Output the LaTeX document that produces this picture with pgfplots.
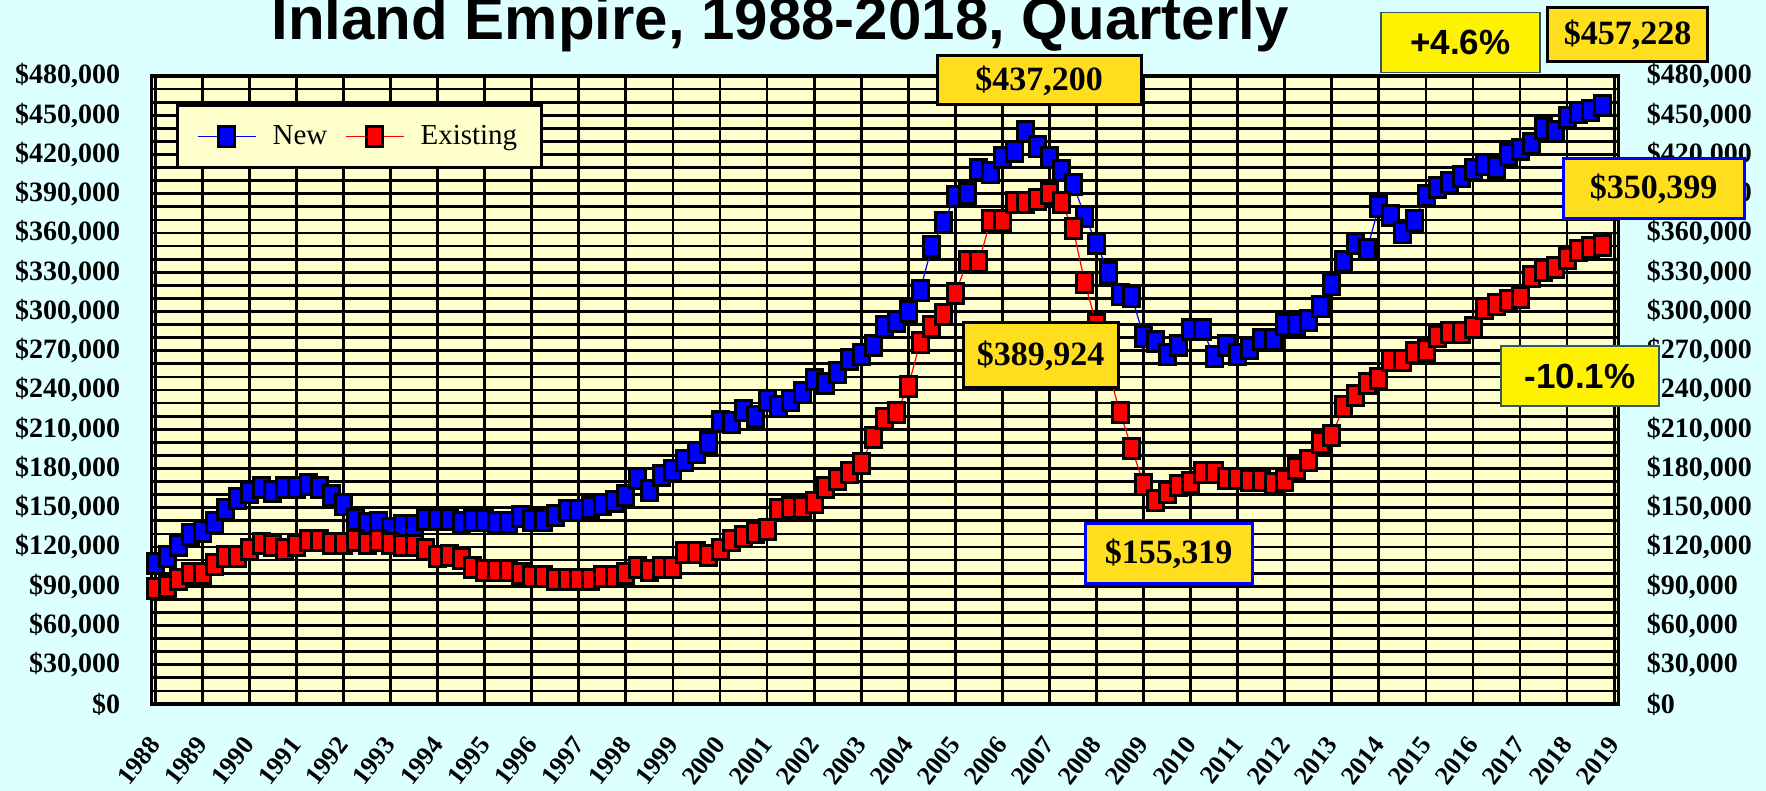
\documentclass[border=0pt]{standalone}
\usepackage{pgfplots}
\pgfplotsset{compat=1.18}
\usepackage{pgfplotstable}
\usepackage{fontspec}
\setmainfont{Liberation Serif}
\newfontfamily\sansfont{Liberation Sans}

\definecolor{bgcyan}{RGB}{220,255,255}
\definecolor{plotyellow}{RGB}{255,255,204}
\definecolor{boxgold}{RGB}{255,222,30}
\definecolor{pctborder}{RGB}{50,90,100}

\pgfplotstableread{
t new existing
1988.00 107500 88000
1988.25 112600 90000
1988.50 120800 95300
1988.75 129200 99900
1989.00 131700 99900
1989.25 139100 106500
1989.50 148300 113100
1989.75 157200 113100
1990.00 162000 118200
1990.25 165600 122300
1990.50 162300 120800
1990.75 165600 118200
1991.00 165600 120800
1991.25 167900 124800
1991.50 165600 124800
1991.75 159500 122300
1992.00 152400 122300
1992.25 140900 124800
1992.50 137600 122300
1992.75 138600 124800
1993.00 134000 122300
1993.25 136600 120800
1993.50 136100 120800
1993.75 141200 118200
1994.00 141200 113100
1994.25 141000 113400
1994.50 138600 111100
1994.75 140600 104400
1995.00 140600 102400
1995.25 138600 102400
1995.50 138600 102400
1995.75 143200 99900
1996.00 140600 97800
1996.25 140600 97800
1996.50 143700 95300
1996.75 147800 95300
1997.00 147800 95300
1997.25 150300 95300
1997.50 152100 97800
1997.75 154400 97800
1998.00 159000 99900
1998.25 172500 104400
1998.50 163100 102400
1998.75 174300 104400
1999.00 178800 104400
1999.25 186000 115700
1999.50 192600 115700
1999.75 199700 113600
2000.00 215800 118200
2000.25 215300 125300
2000.50 224600 127800
2000.75 220000 130900
2001.00 231800 133400
2001.25 227700 148700
2001.50 232300 150200
2001.75 237900 150200
2002.00 248100 153800
2002.25 245000 165500
2002.50 253200 171600
2002.75 263400 176700
2003.00 267400 183900
2003.25 274300 203700
2003.50 288800 218300
2003.75 292200 222600
2004.00 299800 243000
2004.25 315900 276100
2004.50 349500 288800
2004.75 368300 297500
2005.00 388200 313800
2005.25 390200 338000
2005.50 408600 338000
2005.75 406100 369900
2006.00 417800 369900
2006.25 422100 383100
2006.50 437200 383100
2006.75 426400 385700
2007.00 417800 389924
2007.25 408100 383100
2007.50 397400 363500
2007.75 372900 322000
2008.00 352000 290000
2008.25 329600 255000
2008.50 312800 222600
2008.75 311300 195300
2009.00 280700 168100
2009.25 276900 155319
2009.50 267400 161400
2009.75 274300 167300
2010.00 286300 169100
2010.25 286300 176700
2010.50 265400 176700
2010.75 274300 172400
2011.00 267400 172400
2011.25 271800 170600
2011.50 278700 170600
2011.75 278700 168600
2012.00 290400 170600
2012.25 290400 180000
2012.50 293400 186400
2012.75 304100 199700
2013.00 320600 205000
2013.25 338000 227700
2013.50 351600 235900
2013.75 347500 245000
2014.00 380600 249100
2014.25 373000 262900
2014.50 360700 262900
2014.75 369900 268500
2015.00 389000 270000
2015.25 394900 281200
2015.50 398400 283800
2015.75 403500 283800
2016.00 408600 287800
2016.25 412700 302600
2016.50 410200 305200
2016.75 419800 308200
2017.00 423900 310800
2017.25 428500 326600
2017.50 439700 331200
2017.75 437400 333700
2018.00 448400 340300
2018.25 452400 347000
2018.50 454000 349000
2018.75 457228 350399
}\datatable

\begin{document}
\begin{tikzpicture}
\path[use as bounding box, fill=bgcyan] (0pt,0pt) rectangle (883pt,395.5pt);
\node[anchor=base, inner sep=0pt, font=\sansfont\bfseries\fontsize{30pt}{36pt}\selectfont] at (390pt,375.6pt) {Inland Empire, 1988-2018, Quarterly};

\begin{axis}[
  at={(75.75pt,43.5pt)}, anchor=south west,
  scale only axis, width=733.5pt, height=314pt,
  xmin=1987.92, xmax=2019.09, ymin=0, ymax=480000,
  axis background/.style={fill=plotyellow},
  axis line style={line width=1.6pt, black},
  xtick={1988,...,2019}, minor x tick num=3, xmajorgrids,
  ytick={0,30000,60000,90000,120000,150000,180000,210000,240000,270000,300000,330000,360000,390000,420000,450000,480000},
  minor y tick num=2, ymajorgrids, yminorgrids,
  grid style={line width=1.4pt, black},
  minor grid style={line width=1.4pt, black},
  xtick pos=left, ytick pos=left, tick align=inside,
  major tick length=11.5pt, minor tick length=11.5pt,
  major tick style={line width=1.4pt, black},
  minor tick style={line width=1.4pt, black},
  scaled y ticks=false, scaled x ticks=false,
  yticklabel={\$\pgfmathprintnumber[assume math mode=true,fixed,precision=0,1000 sep={,}]{\tick}},
  yticklabel style={font=\bfseries\fontsize{14pt}{15pt}\selectfont, anchor=east, inner sep=0pt, xshift=-15.5pt},
  xticklabel={\pgfmathprintnumber[assume math mode=true,fixed,precision=0,1000 sep={}]{\tick}},
  xticklabel style={font=\bfseries\fontsize{13pt}{14pt}\selectfont, yshift=-18pt, rotate=52, anchor=east, inner sep=0pt},
  legend columns=2,
  legend style={at={(0.0167,0.955)}, anchor=north west, draw=black, line width=1.4pt,
    fill=plotyellow, font=\fontsize{14.5pt}{16pt}\selectfont,
    inner xsep=10pt, inner ysep=8pt,
    nodes={inner xsep=2pt},
    /tikz/every odd column/.append style={column sep=6pt},
    /tikz/every even column/.append style={column sep=7pt}},
  legend image code/.code={\draw[mark repeat=2, mark phase=2] plot coordinates {(0pt,0pt) (14.5pt,0pt) (29pt,0pt)};},
]
\addplot[blue, line width=0.6pt, mark=square*, mark size=4pt,
  mark options={fill=blue, draw=black, line width=1.5pt, yscale=1.25}]
  table[x=t, y=new] {\datatable};
\addlegendentry{New}
\addplot[red, line width=0.6pt, mark=square*, mark size=4pt,
  mark options={fill=red, draw=black, line width=1.5pt, yscale=1.25}]
  table[x=t, y=existing] {\datatable};
\addlegendentry{Existing}
\end{axis}

\begin{axis}[
  at={(75.75pt,43.5pt)}, anchor=south west,
  scale only axis, width=733.5pt, height=314pt,
  xmin=1987.92, xmax=2019.09, ymin=0, ymax=480000,
  axis x line=none, axis y line*=right, axis line style={draw=none},
  xtick=\empty,
  ytick={0,30000,60000,90000,120000,150000,180000,210000,240000,270000,300000,330000,360000,390000,420000,450000,480000},
  major tick length=0pt, scaled y ticks=false,
  yticklabel={\$\pgfmathprintnumber[assume math mode=true,fixed,precision=0,1000 sep={,}]{\tick}},
  yticklabel style={font=\bfseries\fontsize{14pt}{15pt}\selectfont, anchor=west, inner sep=0pt, xshift=14pt},
]
\addplot[draw=none] coordinates {(1990,0)};
\end{axis}

\tikzset{goldbox/.style={line width=1.5pt, fill=boxgold, inner sep=0pt, font=\bfseries\fontsize{17pt}{19pt}\selectfont},
         pctbox/.style={draw=pctborder, line width=0.8pt, fill=yellow, inner sep=0pt, font=\sansfont\bfseries\fontsize{17.5pt}{20pt}\selectfont}}
\node[goldbox, draw=black, minimum width=102pt, minimum height=24.5pt] at (519.5pt,355.25pt) {\$437,200};
\node[pctbox, minimum width=79.5pt, minimum height=30pt] at (730.1pt,374.2pt) {+4.6\%};
\node[goldbox, draw=black, minimum width=80pt, minimum height=27.2pt] at (813.8pt,378.3pt) {\$457,228};
\node[goldbox, draw=blue, minimum width=90.5pt, minimum height=29.6pt] at (826.8pt,301.2pt) {\$350,399};
\node[goldbox, draw=black, minimum width=77.5pt, minimum height=32.5pt] at (520.25pt,217.75pt) {\$389,924};
\node[goldbox, draw=blue, minimum width=83.5pt, minimum height=30pt] at (584.25pt,118.5pt) {\$155,319};
\node[pctbox, minimum width=79pt, minimum height=30pt] at (790pt,207.5pt) {-10.1\%};
\end{tikzpicture}
\end{document}
